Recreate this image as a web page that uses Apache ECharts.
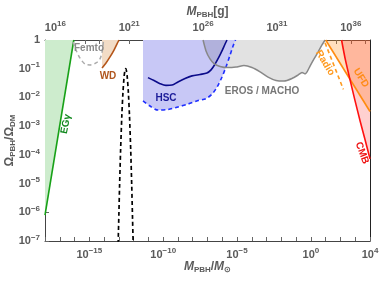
<!DOCTYPE html>
<html><head><meta charset="utf-8">
<script src="https://cdn.jsdelivr.net/npm/echarts@6/dist/echarts.min.js"></script>
<style>html,body{margin:0;padding:0;background:#fff}#c{width:390px;height:282px}</style>
</head><body><div id="c"></div>
<script>
// x: log10(M_PBH / M_sun), y: log10(Omega_PBH / Omega_DM)
const xTickLabelsSun = [-15, -10, -5, 0, 4];
const xTickLabelsGram = [16, 21, 26, 31, 36];
const yTickLabels = [-7, -6, -5, -4, -3, -2, -1, 0];
const gramOffset = 33.2986; // log10(M_sun in grams)

const egGamma = [[-18, -6.1], [-16.05, 0]];
const femto = [[-16.1, -0.07], [-15.9, -0.35], [-15.63, -0.63], [-15.29, -0.84], [-14.95, -0.87],
  [-14.55, -0.8], [-14.28, -0.66], [-14.14, -0.42], [-14.07, -0.17], [-14.04, 0]];
const wd = [[-14.14, -0.975], [-13.87, -0.8], [-13.6, -0.59], [-13.33, -0.35], [-13.06, -0.07], [-12.99, 0]];
const peak = [[-13.05, -7.1], [-13.0, -6.1], [-12.95, -5.05], [-12.88, -3.8], [-12.8, -2.65], [-12.72, -1.8],
  [-12.64, -1.25], [-12.58, -1.04], [-12.54, -1.0], [-12.5, -1.04], [-12.44, -1.25], [-12.36, -1.8],
  [-12.28, -2.65], [-12.2, -3.8], [-12.13, -5.05], [-12.08, -6.1], [-12.03, -7.1]];
const hscDashed = [[-11.365, -2.12], [-10.89, -2.3], [-10.35, -2.44], [-9.67, -2.42], [-9.0, -2.33],
  [-8.32, -2.23], [-7.64, -2.11], [-7.1, -2.04], [-6.69, -1.88], [-6.355, -1.64], [-6.02, -1.29],
  [-5.75, -0.94], [-5.47, -0.52], [-5.27, -0.21], [-5.1, 0]];
const hscSolid = [[-11.03, -1.31], [-10.62, -1.41], [-10.21, -1.52], [-9.81, -1.58], [-9.4, -1.57],
  [-9.0, -1.46], [-8.52, -1.34], [-8.05, -1.25], [-7.51, -1.2], [-7.04, -1.15], [-6.76, -1.04],
  [-6.49, -0.84], [-6.22, -0.59], [-6.02, -0.38], [-5.81, -0.14], [-5.68, 0]];
const eros = [[-7.3, 0], [-7.1, -0.38], [-6.83, -0.66], [-6.56, -0.82], [-6.15, -0.92], [-5.61, -0.96],
  [-5.07, -0.94], [-4.53, -0.89], [-3.99, -0.96], [-3.44, -1.11], [-2.9, -1.29], [-2.36, -1.41],
  [-1.82, -1.43], [-1.28, -1.34], [-0.87, -1.22], [-0.6, -1.13], [-0.4, -1.18], [-0.26, -1.11],
  [-0.06, -0.91], [0.21, -0.66], [0.48, -0.42], [0.75, -0.17], [0.96, 0]];
const erosHscOverlap = [[-7.3, 0], [-7.1, -0.38], [-6.83, -0.66], [-6.53, -0.84], [-6.22, -0.59],
  [-6.02, -0.38], [-5.81, -0.14], [-5.68, 0]];
const radio = [[0.96, -0.1], [2.2, -1.72]];
const ufd = [[1.0, 0], [4.0, -2.49]];
const cmb = [[2.075, 0], [2.31, -0.63], [2.65, -1.39], [2.99, -2.12], [3.33, -2.82], [3.67, -3.48], [4.0, -4.14]];

const chart = echarts.init(document.getElementById('c'), null, {renderer: 'canvas'});
const FONT = '"Liberation Sans", Arial, sans-serif';
const rich = {
  b: {fontSize: 11, fontWeight: 'bold', color: '#5a5a5a', fontFamily: FONT},
  s: {fontSize: 8, fontWeight: 'bold', color: '#5a5a5a', fontFamily: FONT, padding: [0, 0, 7, 0]}
};
function pow10(v, oneForZero) {
  const n = Math.round(v);
  if (n === 0 && oneForZero) return '{b|1}';
  return '{b|10}{s|' + (n < 0 ? '\u2212' + (-n) : String(n)) + '}';
}
const nameRich = {
  i: {fontSize: 12, fontStyle: 'italic', fontWeight: 'bold', color: '#5a5a5a', fontFamily: FONT},
  n: {fontSize: 12, fontWeight: 'bold', color: '#5a5a5a', fontFamily: FONT},
  sub: {fontSize: 8, fontWeight: 'bold', color: '#5a5a5a', fontFamily: FONT, padding: [6, 0, 0, 0]}
};
function range(a, b) { const r = []; for (let i = a; i <= b; i++) r.push(i); return r; }

function fill(data, color, z, smooth) {
  return {type: 'line', data, xAxisIndex: 0, yAxisIndex: 0, symbol: 'none', smooth: smooth || false,
    lineStyle: {width: 0, opacity: 0}, areaStyle: {color, opacity: 1, origin: 'end'}, z, silent: true};
}
function curve(data, color, width, dashed, z, smooth) {
  return {type: 'line', data, xAxisIndex: 0, yAxisIndex: 0, symbol: 'none', smooth: smooth || false,
    lineStyle: {color, width, type: dashed ? [4, 3] : 'solid'}, z, silent: true};
}

const axisLineStyle = {onZero: false, lineStyle: {color: '#444', width: 1}};
const option = {
  animation: false,
  grid: {left: 45, right: 20, top: 40, bottom: 41, containLabel: false, outerBoundsMode: 'none'},
  xAxis: [
    {type: 'value', position: 'bottom', min: -18, max: 4,
      axisLine: axisLineStyle, splitLine: {show: false},
      axisTick: {inside: true, length: 4, customValues: range(-18, 4), lineStyle: {color: '#666'}},
      axisLabel: {customValues: xTickLabelsSun, formatter: v => pow10(v, false), rich, margin: 6},
      name: '{i|M}{sub|PBH}{n|/}{i|M}{sub|\u2299}', nameLocation: 'middle', nameGap: 19,
      nameMoveOverlap: false, nameTextStyle: {rich: nameRich}},
    {type: 'value', position: 'top', min: -18 + gramOffset, max: 4 + gramOffset,
      axisLine: axisLineStyle, splitLine: {show: false},
      axisTick: {inside: true, length: 4, customValues: range(16, 37), lineStyle: {color: '#666'}},
      axisLabel: {customValues: xTickLabelsGram, formatter: v => pow10(v, false), rich, margin: 5},
      name: '{i|M}{sub|PBH}{n|[g]}', nameLocation: 'middle', nameGap: 21,
      nameMoveOverlap: false, nameTextStyle: {rich: nameRich}}
  ],
  yAxis: [
    {type: 'value', position: 'left', min: -7, max: 0, interval: 1,
      axisLine: axisLineStyle, splitLine: {show: false},
      axisTick: {inside: true, length: 4, lineStyle: {color: '#666'}},
      axisLabel: {customValues: yTickLabels, formatter: v => pow10(v, true), rich, margin: 5},
      name: '{n|\u03A9}{sub|PBH}{n|/\u03A9}{sub|DM}', nameLocation: 'middle', nameGap: 28,
      nameMoveOverlap: false, nameTextStyle: {rich: nameRich}},
    {type: 'value', position: 'right', min: -7, max: 0,
      axisLine: {show: true, onZero: false, lineStyle: {color: '#222', width: 1}}, axisTick: {show: false},
      axisLabel: {show: false}, splitLine: {show: false}}
  ],
  series: [
    fill(egGamma, '#cdeccd', 1),
    fill(wd, '#f2dcc6', 1),
    fill(eros, '#e2e2e2', 1, 0.2),
    fill(hscDashed, '#c8c8f6', 2, 0.2),
    fill(erosHscOverlap, '#b1b1dc', 3, 0.2),
    fill(ufd, 'rgba(255,140,20,0.27)', 3),
    fill(cmb, 'rgba(255,20,20,0.2)', 4, 0.2),
    curve(egGamma, '#17a117', 1.6, false, 6),
    curve(femto, '#aaaaaa', 1.5, true, 6, 0.3),
    curve(wd, '#b5561a', 1.6, false, 6, 0.2),
    curve(peak, '#000000', 1.7, true, 6, 0.3),
    curve(hscDashed, '#1f2fff', 1.6, true, 6, 0.3),
    curve(hscSolid, '#0b0b8a', 1.6, false, 6, 0.3),
    curve(eros, '#888888', 1.5, false, 6, 0.2),
    curve(radio, '#ff9a1f', 1.6, true, 6),
    curve(ufd, '#ff8c10', 1.6, false, 6),
    curve(cmb, '#ff1010', 1.6, false, 6, 0.2)
  ],
  graphic: [
    {type: 'text', x: 89, y: 48, z: 20, style: {text: 'Femto', fill: '#8a8a8a', font: 'bold 10px ' + FONT, align: 'center', verticalAlign: 'middle', textAlign: 'center', textVerticalAlign: 'middle'}},
    {type: 'text', x: 108, y: 76, z: 20, style: {text: 'WD', fill: '#b0561e', font: 'bold 10px ' + FONT, align: 'center', verticalAlign: 'middle', textAlign: 'center', textVerticalAlign: 'middle'}},
    {type: 'text', x: 66, y: 124, rotation: 1.38, z: 20, style: {text: 'EG\u03B3', fill: '#11881e', font: 'bold 10px ' + FONT, align: 'center', verticalAlign: 'middle', textAlign: 'center', textVerticalAlign: 'middle'}},
    {type: 'text', x: 166, y: 98, z: 20, style: {text: 'HSC', fill: '#1b1b99', font: 'bold 10px ' + FONT, align: 'center', verticalAlign: 'middle', textAlign: 'center', textVerticalAlign: 'middle'}},
    {type: 'text', x: 262, y: 91, z: 20, style: {text: 'EROS / MACHO', fill: '#777777', font: 'bold 10px ' + FONT, align: 'center', verticalAlign: 'middle', textAlign: 'center', textVerticalAlign: 'middle'}},
    {type: 'text', x: 325, y: 63, rotation: -1.03, z: 20, style: {text: 'Radio', fill: '#ff9a1f', font: 'bold 10px ' + FONT, align: 'center', verticalAlign: 'middle', textAlign: 'center', textVerticalAlign: 'middle'}},
    {type: 'text', x: 361, y: 78, rotation: -1.0, z: 20, style: {text: 'UFD', fill: '#ff8c1a', font: 'bold 10px ' + FONT, align: 'center', verticalAlign: 'middle', textAlign: 'center', textVerticalAlign: 'middle'}},
    {type: 'text', x: 362, y: 153, rotation: -1.22, z: 20, style: {text: 'CMB', fill: '#ee1111', font: 'bold 10px ' + FONT, align: 'center', verticalAlign: 'middle', textAlign: 'center', textVerticalAlign: 'middle'}}
  ]
};
chart.setOption(option);
</script></body></html>
